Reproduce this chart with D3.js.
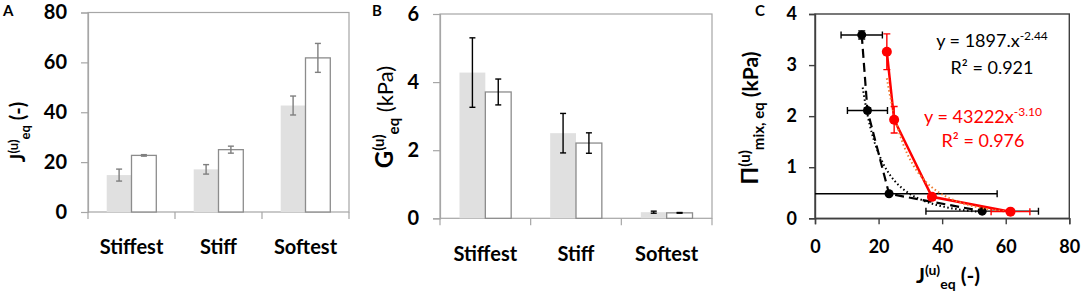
<!DOCTYPE html>
<html>
<head>
<meta charset="utf-8">
<script src="https://cdn.jsdelivr.net/npm/d3@7"></script>
<style>
  body { margin: 0; background: #fff; }
  svg { display: block; font-family: Lato, "Open Sans", sans-serif; }
</style>
</head>
<body>
<div id="chart"></div>
<script>
// values
const categories = ["Stiffest", "Stiff", "Softest"];

const jGray = [14.8, 17.1, 42.7];
const jGrayErr = [2.4, 1.9, 3.8];
const jWhite = [22.7, 25.0, 61.8];
const jWhiteErr = [0.3, 1.4, 5.8];
const jTicks = [0, 20, 40, 60, 80];

const gGray = [4.28, 2.50, 0.18];
const gGrayErr = [1.02, 0.58, 0.03];
const gWhite = [3.71, 2.21, 0.16];
const gWhiteErr = [0.38, 0.30, 0.01];
const gTicks = [0, 2, 4, 6];

const cJBlack = [14.7, 16.5, 23.3, 52.6];
const cJBlackErr = [6.5, 6.3, 34, 17.7];
const cPiBlack = [3.59, 2.11, 0.48, 0.14];
const cPiBlackErr = [0.08, 0.05, 0, 0.02];

const cJRed = [22.6, 24.9, 36.8, 61.5];
const cJRedErr = [0.3, 0.8, 0.5, 6.1];
const cPiRed = [3.26, 1.93, 0.42, 0.13];
const cPiRedErr = [0.35, 0.26, 0.06, 0.02];
const cXTicks = [0, 20, 40, 60, 80];
const cYTicks = [0, 1, 2, 3, 4];

// power law fits shown on the chart
const fitBlack = { a: 1897, b: -2.44, from: 15, to: 52.6 };
const fitRed = { a: 43222, b: -3.10, from: 22.6, to: 61.5 };

const W = 1084, H = 299;
const svg = d3.select("#chart").append("svg").attr("width", W).attr("height", H);
const fmt = d3.format("d");

// label with sup/sub parts: parts = [[text, size, weight, dy]]
function richText(g, x, y, parts, rotate) {
  const t = g.append("text")
    .attr("text-anchor", "middle")
    .attr("fill", "#000");
  if (rotate) t.attr("transform", `translate(${x},${y}) rotate(-90)`);
  else t.attr("x", x).attr("y", y);
  parts.forEach(p => {
    t.append("tspan")
      .attr("font-size", p[1])
      .attr("font-weight", p[2])
      .attr("dy", p[3])
      .text(p[0]);
  });
  return t;
}

function barPanel(opts) {
  const { left, right, top, bottom, max, ticks, gray, grayErr, white, whiteErr, errColor } = opts;
  const g = svg.append("g");

  const x = d3.scaleBand().domain(categories).range([left, right]).paddingInner(0.43).paddingOuter(0.215);
  const sub = d3.scaleBand().domain(["g", "w"]).range([0, x.bandwidth()]);
  const y = d3.scaleLinear().domain([0, max]).range([bottom, top]);

  // frame
  g.append("rect")
    .attr("x", left).attr("y", top)
    .attr("width", right - left).attr("height", bottom - top)
    .attr("fill", "none").attr("stroke", "#a6a6a6").attr("stroke-width", 1.2);

  const yAxis = g.append("g")
    .attr("transform", `translate(${left},0)`)
    .call(d3.axisLeft(y).tickValues(ticks).tickFormat(fmt).tickSize(7).tickPadding(14));
  yAxis.select(".domain").attr("stroke", "#a6a6a6").attr("stroke-width", 1.2);
  yAxis.selectAll(".tick line").attr("stroke", "#a6a6a6").attr("stroke-width", 1.2);
  yAxis.selectAll(".tick text")
    .attr("font-size", 20).attr("font-weight", "bold").attr("fill", "#000")
    .attr("font-family", "Lato, sans-serif");

  // category separators below the axis
  const step = x.step();
  g.selectAll(".sep")
    .data(d3.range(categories.length + 1))
    .join("line")
    .attr("x1", i => left + i * step).attr("x2", i => left + i * step)
    .attr("y1", bottom).attr("y2", bottom + 7)
    .attr("stroke", "#a6a6a6").attr("stroke-width", 1.2);

  g.selectAll(".cat")
    .data(categories)
    .join("text")
    .attr("x", d => x(d) + x.bandwidth() / 2)
    .attr("y", opts.catY)
    .attr("text-anchor", "middle")
    .attr("font-size", 20).attr("font-weight", "bold")
    .text(d => d);

  const rows = categories.map((c, i) => [
    { c, k: "g", v: gray[i], e: grayErr[i] },
    { c, k: "w", v: white[i], e: whiteErr[i] }
  ]).flat();

  g.selectAll(".bar")
    .data(rows)
    .join("rect")
    .attr("x", d => x(d.c) + sub(d.k))
    .attr("y", d => y(d.v))
    .attr("width", sub.bandwidth())
    .attr("height", d => y(0) - y(d.v))
    .attr("fill", d => d.k === "g" ? "#e0e0e0" : "#fff")
    .attr("stroke", d => d.k === "g" ? "none" : "#8c8c8c")
    .attr("stroke-width", 1.3);

  const eb = g.selectAll(".err").data(rows).join("g")
    .attr("stroke", errColor).attr("stroke-width", 1.4);
  const cx = d => x(d.c) + sub(d.k) + sub.bandwidth() / 2;
  eb.append("line")
    .attr("x1", cx).attr("x2", cx)
    .attr("y1", d => y(d.v + d.e)).attr("y2", d => y(d.v - d.e));
  eb.append("line")
    .attr("x1", d => cx(d) - 3).attr("x2", d => cx(d) + 3)
    .attr("y1", d => y(d.v + d.e)).attr("y2", d => y(d.v + d.e));
  eb.append("line")
    .attr("x1", d => cx(d) - 3).attr("x2", d => cx(d) + 3)
    .attr("y1", d => y(d.v - d.e)).attr("y2", d => y(d.v - d.e));

  return g;
}

// Panel A
const gA = barPanel({
  left: 88, right: 349, top: 12.5, bottom: 212, max: 80, ticks: jTicks,
  gray: jGray, grayErr: jGrayErr, white: jWhite, whiteErr: jWhiteErr,
  errColor: "#7f7f7f", catY: 254
});
richText(gA, 25, 132, [
  ["J", 20, "bold", 0], ["(u)", 13, "bold", -7], ["eq", 13, "bold", 12], [" (-)", 20, "bold", -5]
], true);
svg.append("text").attr("x", 3).attr("y", 16).attr("font-size", 15).attr("font-weight", "bold").text("A");

// Panel B
const gB = barPanel({
  left: 440, right: 712, top: 14, bottom: 218.3, max: 6, ticks: gTicks,
  gray: gGray, grayErr: gGrayErr, white: gWhite, whiteErr: gWhiteErr,
  errColor: "#000", catY: 261
});
richText(gB, 393, 117, [
  ["G", 24, "bold", 0], ["(u)", 15, "bold", -9], ["eq", 15, "bold", 15], [" (kPa)", 22, "normal", -6]
], true);
svg.append("text").attr("x", 372).attr("y", 16).attr("font-size", 15).attr("font-weight", "bold").text("B");

// Panel C
const cLeft = 815, cRight = 1069.3, cTop = 14, cBottom = 218.3;
const xC = d3.scaleLinear().domain([0, 80]).range([cLeft, cRight]);
const yC = d3.scaleLinear().domain([0, 4]).range([cBottom, cTop]);
const gC = svg.append("g");

gC.append("defs").append("clipPath").attr("id", "clipC")
  .append("rect").attr("x", cLeft).attr("y", cTop)
  .attr("width", cRight - cLeft).attr("height", cBottom - cTop);

gC.append("rect")
  .attr("x", cLeft).attr("y", cTop)
  .attr("width", cRight - cLeft).attr("height", cBottom - cTop)
  .attr("fill", "none").attr("stroke", "#404040").attr("stroke-width", 1.4);

const xAxC = gC.append("g").attr("transform", `translate(0,${cBottom})`)
  .call(d3.axisBottom(xC).tickValues(cXTicks).tickFormat(fmt).tickSize(6).tickPadding(16));
const yAxC = gC.append("g").attr("transform", `translate(${cLeft},0)`)
  .call(d3.axisLeft(yC).tickValues(cYTicks).tickFormat(fmt).tickSize(6).tickPadding(12));
[xAxC, yAxC].forEach(a => {
  a.select(".domain").attr("stroke", "#404040").attr("stroke-width", 1.4);
  a.selectAll(".tick line").attr("stroke", "#404040").attr("stroke-width", 1.4);
  a.selectAll(".tick text").attr("font-size", 18).attr("font-weight", "bold")
    .attr("fill", "#000").attr("font-family", "Lato, sans-serif");
});

const plotC = gC.append("g").attr("clip-path", "url(#clipC)");

function fitPoints(f) {
  const n = 60;
  return d3.range(n + 1).map(i => {
    const xv = f.from + (f.to - f.from) * i / n;
    return [xv, f.a * Math.pow(xv, f.b)];
  });
}
const lineC = d3.line().x(d => xC(d[0])).y(d => yC(d[1]));

const blackPts = cJBlack.map((v, i) => ({ x: v, y: cPiBlack[i], ex: cJBlackErr[i], ey: cPiBlackErr[i] }));
const redPts = cJRed.map((v, i) => ({ x: v, y: cPiRed[i], ex: cJRedErr[i], ey: cPiRedErr[i] }));

// black fit (dotted) and data line (dashed)
plotC.append("path").datum(fitPoints(fitBlack)).attr("d", lineC)
  .attr("fill", "none").attr("stroke", "#000").attr("stroke-width", 2).attr("stroke-dasharray", "1.5,2.5");
plotC.append("path").datum(blackPts.map(d => [d.x, d.y])).attr("d", lineC)
  .attr("fill", "none").attr("stroke", "#000").attr("stroke-width", 2.2).attr("stroke-dasharray", "9,5");

function errBars(sel, pts, color) {
  const g = sel.append("g").attr("stroke", color).attr("stroke-width", 1.4);
  pts.forEach(d => {
    if (d.ex > 0) {
      const x0 = xC(Math.max(0, d.x - d.ex)), x1 = xC(d.x + d.ex), yy = yC(d.y);
      g.append("line").attr("x1", x0).attr("x2", x1).attr("y1", yy).attr("y2", yy);
      if (d.x - d.ex > 0) g.append("line").attr("x1", x0).attr("x2", x0).attr("y1", yy - 3.5).attr("y2", yy + 3.5);
      g.append("line").attr("x1", x1).attr("x2", x1).attr("y1", yy - 3.5).attr("y2", yy + 3.5);
    }
    if (d.ey > 0) {
      const y0 = yC(d.y - d.ey), y1 = yC(d.y + d.ey), xx = xC(d.x);
      g.append("line").attr("x1", xx).attr("x2", xx).attr("y1", y0).attr("y2", y1);
      g.append("line").attr("x1", xx - 3.5).attr("x2", xx + 3.5).attr("y1", y0).attr("y2", y0);
      g.append("line").attr("x1", xx - 3.5).attr("x2", xx + 3.5).attr("y1", y1).attr("y2", y1);
    }
  });
}
errBars(plotC, blackPts, "#000");

plotC.selectAll(".bpt").data(blackPts).join("circle")
  .attr("cx", d => xC(d.x)).attr("cy", d => yC(d.y)).attr("r", 4.5).attr("fill", "#000");

// red data line, fit (orange dotted), error bars and points
plotC.append("path").datum(redPts.map(d => [d.x, d.y])).attr("d", lineC)
  .attr("fill", "none").attr("stroke", "#ff0000").attr("stroke-width", 2.5);
plotC.append("path").datum(fitPoints(fitRed)).attr("d", lineC)
  .attr("fill", "none").attr("stroke", "#ed7d31").attr("stroke-width", 2).attr("stroke-dasharray", "1.5,2.5");
errBars(plotC, redPts, "#ff0000");
plotC.selectAll(".rpt").data(redPts).join("circle")
  .attr("cx", d => xC(d.x)).attr("cy", d => yC(d.y)).attr("r", 5).attr("fill", "#ff0000");

// fit equations
richText(gC, 992, 47, [
  ["y = 1897.x", 18, "normal", 0], ["-2.44", 12, "normal", -7]
], false);
richText(gC, 992, 74, [["R² = 0.921", 18, "normal", 0]], false).attr("fill", "#000");
richText(gC, 983, 123, [
  ["y = 43222x", 18, "normal", 0], ["-3.10", 12, "normal", -7]
], false).attr("fill", "#ff0000");
richText(gC, 983, 147, [["R² = 0.976", 18, "normal", 0]], false).attr("fill", "#ff0000");

// axis titles
richText(gC, 758, 118, [
  ["Π", 23, "bold", 0], ["(u)", 15, "bold", -8], ["mix, eq", 15, "bold", 14], [" (kPa)", 21, "bold", -6]
], true);
richText(gC, 948, 283, [
  ["J", 21, "bold", 0], ["(u)", 14, "bold", -8], ["eq", 14, "bold", 14], [" (-)", 21, "bold", -6]
], false);
svg.append("text").attr("x", 755).attr("y", 16).attr("font-size", 15).attr("font-weight", "bold").text("C");
</script>
</body>
</html>
